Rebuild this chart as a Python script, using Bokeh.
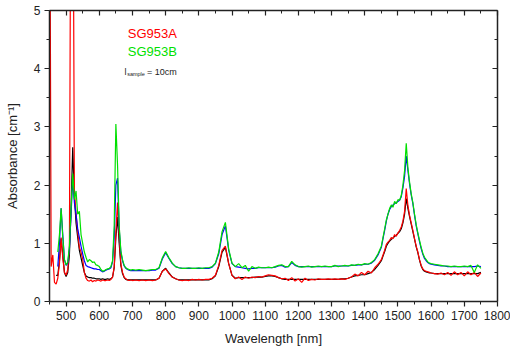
from bokeh.plotting import figure
from bokeh.models import LinearAxis, FixedTicker, Label, Range1d
from bokeh.embed import file_html
from bokeh.resources import INLINE

nan = float("nan")

# wavelength grid [nm]
wavelength = [
    450, 455, 460, 465, 470, 475, 480, 485, 490, 495,
    500, 505, 510, 515, 520, 525, 530, 535, 540, 545,
    550, 555, 560, 565, 570, 575, 580, 585, 590, 595,
    600, 605, 610, 615, 620, 625, 630, 635, 640, 645,
    650, 655, 660, 665, 670, 675, 680, 685, 690, 695,
    700,
    710, 720, 730, 740, 750, 760, 770, 780, 790, 800,
    810, 820, 830, 840, 850, 860, 870, 880, 890, 900,
    910, 920, 930, 940, 950, 960, 970, 980, 990, 1000,
    1010, 1020, 1030, 1040, 1050, 1060, 1070, 1080, 1090, 1100,
    1110, 1120, 1130, 1140, 1150, 1160, 1170, 1180, 1190, 1200,
    1210, 1220, 1230, 1240, 1250, 1260, 1270, 1280, 1290, 1300,
    1310, 1320, 1330, 1340, 1350, 1360, 1370, 1380, 1390, 1400,
    1410, 1420, 1430, 1440,
    1450, 1455, 1460, 1465, 1470, 1475, 1480, 1485, 1490, 1495,
    1500, 1505, 1510, 1515, 1520, 1525, 1530, 1535, 1540, 1545,
    1550, 1555, 1560, 1565, 1570, 1575, 1580, 1585, 1590, 1595,
    1600,
    1610, 1620, 1630, 1640, 1650, 1660, 1670, 1680, 1690, 1700,
    1710, 1720, 1730, 1740, 1750,
]

# SG953A (red)
sg953a = [
    9.0, 0.60, 0.80, 0.33, 0.30, 0.40, 0.65, 1.10, 0.75, 0.50,
    0.45, 0.55, 0.90, 9.0, 9.0, 1.90, 1.50, 1.20, 0.93, 0.85,
    0.73, 0.50, 0.40, 0.36, 0.35, 0.37, 0.34, 0.36, 0.35, 0.37,
    0.36, 0.35, 0.37, 0.36, 0.36, 0.37, 0.36, 0.38, 0.42, 0.60,
    1.20, 1.70, 1.10, 0.65, 0.50, 0.42, 0.39, 0.37, 0.36, 0.37,
    0.36,
    0.37, 0.36, 0.37, 0.36, 0.37, 0.36, 0.37, 0.40, 0.52, 0.56,
    0.48, 0.42, 0.39, 0.37, 0.36, 0.37, 0.36, 0.38, 0.37, 0.38,
    0.37, 0.38, 0.38, 0.40, 0.45, 0.62, 0.88, 0.95, 0.65, 0.45,
    0.39, 0.42, 0.38, 0.42, 0.40, 0.42, 0.41, 0.43, 0.42, 0.44,
    0.46, 0.45, 0.44, 0.41, 0.39, 0.40, 0.36, 0.41, 0.35, 0.39,
    0.33, 0.40, 0.36, 0.38, 0.37, 0.39, 0.38, 0.38, 0.39, 0.38,
    0.39, 0.38, 0.39, 0.38, 0.40, 0.42, 0.47, 0.44, 0.50, 0.46,
    0.52, 0.49, 0.58, 0.64,
    0.72, 0.80, 0.88, 0.98, 1.02, 1.05, 1.10, 1.08, 1.15, 1.12,
    1.18, 1.22, 1.28, 1.38, 1.55, 1.94, 1.65, 1.48, 1.35, 1.22,
    1.08, 0.95, 0.85, 0.72, 0.62, 0.56, 0.53, 0.52, 0.51, 0.50,
    0.49,
    0.48, 0.47, 0.49, 0.46, 0.50, 0.45, 0.51, 0.46, 0.50, 0.44,
    0.51, 0.46, 0.50, 0.43, 0.49,
]

# SG953A baseline-corrected (black)
sg953a_corr = [
    nan, nan, nan, nan, 0.45, 0.45, 0.70, 1.08, 0.80, 0.50,
    0.43, 0.50, 0.80, 1.60, 2.65, 1.80, 1.35, 1.10, 0.88, 0.75,
    0.62, 0.50, 0.44, 0.42, 0.41, 0.41, 0.40, 0.40, 0.39, 0.39,
    0.39, 0.38, 0.39, 0.38, 0.38, 0.39, 0.38, 0.39, 0.42, 0.58,
    1.10, 1.45, 1.00, 0.62, 0.48, 0.41, 0.38, 0.37, 0.37, 0.37,
    0.37,
    0.37, 0.37, 0.37, 0.37, 0.37, 0.37, 0.37, 0.40, 0.52, 0.57,
    0.49, 0.42, 0.39, 0.37, 0.37, 0.37, 0.37, 0.37, 0.37, 0.37,
    0.37, 0.37, 0.37, 0.39, 0.44, 0.60, 0.85, 0.93, 0.65, 0.45,
    0.40, 0.41, 0.41, 0.41, 0.41, 0.41, 0.42, 0.42, 0.42, 0.43,
    0.44, 0.44, 0.43, 0.41, 0.39, 0.38, 0.38, 0.38, 0.38, 0.38,
    0.38, 0.38, 0.38, 0.38, 0.38, 0.38, 0.38, 0.38, 0.38, 0.38,
    0.38, 0.38, 0.39, 0.39, 0.40, 0.42, 0.44, 0.45, 0.46, 0.46,
    0.48, 0.50, 0.55, 0.62,
    0.70, 0.78, 0.86, 0.95, 1.00, 1.04, 1.07, 1.09, 1.12, 1.14,
    1.17, 1.20, 1.25, 1.35, 1.50, 1.77, 1.60, 1.46, 1.33, 1.20,
    1.07, 0.94, 0.84, 0.71, 0.61, 0.55, 0.52, 0.51, 0.50, 0.49,
    0.49,
    0.48, 0.48, 0.48, 0.48, 0.48, 0.48, 0.48, 0.48, 0.48, 0.48,
    0.48, 0.48, 0.48, 0.48, 0.50,
]

# SG953B (green)
sg953b = [
    nan, nan, nan, nan, nan, 0.85, 1.15, 1.60, 1.10, 0.72,
    0.63, 0.68, 0.95, 1.60, 2.20, 1.75, 1.90, 1.50, 1.55, 1.15,
    1.00, 0.85, 0.76, 0.68, 0.72, 0.70, 0.67, 0.68, 0.63, 0.62,
    0.60, 0.55, 0.52, 0.53, 0.55, 0.56, 0.57, 0.60, 0.70, 1.30,
    3.05, 2.35, 1.30, 0.87, 0.72, 0.62, 0.58, 0.56, 0.55, 0.54,
    0.55,
    0.54, 0.55, 0.54, 0.53, 0.54, 0.55, 0.55, 0.58, 0.75, 0.86,
    0.75, 0.66, 0.60, 0.58, 0.57, 0.57, 0.58, 0.57, 0.57, 0.58,
    0.57, 0.58, 0.58, 0.60, 0.66, 0.85, 1.20, 1.36, 0.90, 0.66,
    0.60, 0.65, 0.58, 0.62, 0.52, 0.60, 0.57, 0.59, 0.58, 0.58,
    0.59, 0.58, 0.60, 0.62, 0.63, 0.60, 0.60, 0.69, 0.63, 0.60,
    0.59, 0.60, 0.61, 0.59, 0.60, 0.61, 0.60, 0.61, 0.60, 0.60,
    0.62, 0.60, 0.61, 0.62, 0.61, 0.63, 0.62, 0.64, 0.63, 0.65,
    0.64, 0.67, 0.72, 0.82,
    0.95, 1.10, 1.25, 1.40, 1.50, 1.60, 1.66, 1.62, 1.72, 1.68,
    1.75, 1.74, 1.82, 2.00, 2.25, 2.72, 2.30, 2.05, 1.85, 1.70,
    1.50, 1.32, 1.18, 1.05, 0.93, 0.83, 0.76, 0.72, 0.68, 0.66,
    0.65,
    0.64, 0.63, 0.62, 0.61, 0.61, 0.60, 0.61, 0.60, 0.60, 0.61,
    0.60, 0.62, 0.50, 0.63, 0.57,
]

# SG953B baseline-corrected (blue)
sg953b_corr = [
    nan, nan, nan, nan, nan, 0.60, 1.00, 1.60, 1.15, 0.72,
    0.62, 0.66, 0.90, 1.50, 2.10, 1.70, 1.50, 1.25, 1.10, 0.95,
    0.82, 0.70, 0.62, 0.60, 0.59, 0.58, 0.57, 0.56, 0.56, 0.55,
    0.55, 0.53, 0.51, 0.52, 0.54, 0.55, 0.56, 0.58, 0.68, 1.10,
    2.00, 2.12, 1.25, 0.85, 0.70, 0.61, 0.57, 0.55, 0.54, 0.53,
    0.53,
    0.53, 0.53, 0.53, 0.53, 0.53, 0.54, 0.54, 0.57, 0.73, 0.84,
    0.74, 0.65, 0.60, 0.58, 0.57, 0.57, 0.57, 0.57, 0.57, 0.57,
    0.57, 0.57, 0.57, 0.59, 0.65, 0.82, 1.15, 1.30, 0.88, 0.65,
    0.60, 0.59, 0.58, 0.57, 0.56, 0.57, 0.57, 0.58, 0.58, 0.58,
    0.58, 0.58, 0.59, 0.61, 0.62, 0.59, 0.60, 0.67, 0.62, 0.60,
    0.60, 0.60, 0.60, 0.60, 0.60, 0.60, 0.60, 0.60, 0.60, 0.60,
    0.61, 0.61, 0.61, 0.61, 0.61, 0.62, 0.62, 0.63, 0.63, 0.64,
    0.64, 0.66, 0.71, 0.80,
    0.93, 1.08, 1.22, 1.38, 1.50, 1.58, 1.63, 1.66, 1.68, 1.70,
    1.72, 1.74, 1.80, 1.95, 2.15, 2.50, 2.25, 2.02, 1.83, 1.68,
    1.48, 1.30, 1.16, 1.03, 0.91, 0.81, 0.74, 0.70, 0.67, 0.65,
    0.64,
    0.63, 0.62, 0.61, 0.61, 0.60, 0.60, 0.60, 0.60, 0.60, 0.60,
    0.60, 0.60, 0.60, 0.61, 0.60,
]

x_major_ticks = [500, 600, 700, 800, 900, 1000, 1100, 1200, 1300, 1400, 1500, 1600, 1700, 1800]
x_minor_ticks = [450, 550, 650, 750, 850, 950, 1050, 1150, 1250, 1350, 1450, 1550, 1650, 1750]
y_major_ticks = [0, 1, 2, 3, 4, 5]
y_minor_ticks = [0.5, 1.5, 2.5, 3.5, 4.5]

series_names = ["SG953A", "SG953B"]
series_colors = ["#ff0000", "#00e000"]

FONT = "Liberation Sans"
AXIS_COLOR = "#222222"

p = figure(
    frame_width=448, frame_height=291,
    x_range=Range1d(450, 1800), y_range=Range1d(0, 5),
    output_backend="svg", toolbar_location=None,
    min_border_left=49, min_border_right=13, min_border_top=10, min_border_bottom=46,
)
p.xgrid.visible = False
p.ygrid.visible = False
p.outline_line_color = None
p.background_fill_color = "white"
p.border_fill_color = "white"


def style_axis(ax, labels=True, inward=False):
    ax.axis_line_color = AXIS_COLOR
    ax.axis_line_width = 1.5
    ax.major_tick_line_color = AXIS_COLOR
    ax.minor_tick_line_color = AXIS_COLOR
    ax.major_tick_line_width = 1.2
    ax.minor_tick_line_width = 1.0
    if inward:
        ax.major_tick_in, ax.major_tick_out = 5, 0
        ax.minor_tick_in, ax.minor_tick_out = 3, 0
    else:
        ax.major_tick_in, ax.major_tick_out = 0, 5
        ax.minor_tick_in, ax.minor_tick_out = 0, 3
    ax.major_label_text_font = FONT
    ax.major_label_text_color = AXIS_COLOR
    if labels:
        ax.major_label_text_font_size = "12px"
        ax.major_label_standoff = 4
        ax.axis_label_text_font = FONT
        ax.axis_label_text_font_size = "13px"
        ax.axis_label_text_font_style = "normal"
        ax.axis_label_text_color = AXIS_COLOR
    else:
        ax.major_label_text_font_size = "1px"
        ax.major_label_standoff = 0


xa = p.xaxis[0]
xa.ticker = FixedTicker(ticks=x_major_ticks, minor_ticks=x_minor_ticks)
xa.axis_label = "Wavelength [nm]"
style_axis(xa)
xa.axis_label_standoff = 8

ya = p.yaxis[0]
ya.ticker = FixedTicker(ticks=y_major_ticks, minor_ticks=y_minor_ticks)
ya.axis_label = "Absorbance [cm\u207b\u00b9]"
style_axis(ya)
ya.axis_label_standoff = 11

top = LinearAxis(ticker=FixedTicker(ticks=x_major_ticks, minor_ticks=x_minor_ticks))
top.major_label_overrides = {t: "" for t in x_major_ticks}
style_axis(top, labels=False, inward=True)
p.add_layout(top, "above")

right = LinearAxis(ticker=FixedTicker(ticks=y_major_ticks, minor_ticks=y_minor_ticks))
right.major_label_overrides = {t: "" for t in y_major_ticks}
style_axis(right, labels=False, inward=True)
p.add_layout(right, "right")

p.line(wavelength, sg953a_corr, line_color="black", line_width=1.2)
p.line(wavelength, sg953a, line_color=series_colors[0], line_width=1.2)
p.line(wavelength, sg953b_corr, line_color="#0000ff", line_width=1.2)
p.line(wavelength, sg953b, line_color=series_colors[1], line_width=1.2)

p.add_layout(Label(x=686, y=4.60, text=series_names[0], text_font=FONT, text_font_size="13px",
                   text_color=series_colors[0], text_baseline="alphabetic"))
p.add_layout(Label(x=686, y=4.29, text=series_names[1], text_font=FONT, text_font_size="13px",
                   text_color=series_colors[1], text_baseline="alphabetic"))
p.add_layout(Label(x=676, y=3.94, text="l", text_font=FONT, text_font_size="9px",
                   text_color="#222222", text_baseline="alphabetic"))
p.add_layout(Label(x=684, y=3.91, text="sample", text_font=FONT, text_font_size="5.5px",
                   text_color="#222222", text_baseline="alphabetic"))
p.add_layout(Label(x=744, y=3.94, text="= 10cm", text_font=FONT, text_font_size="9px",
                   text_color="#222222", text_baseline="alphabetic"))

open("out.html", "w").write(file_html(p, INLINE))
